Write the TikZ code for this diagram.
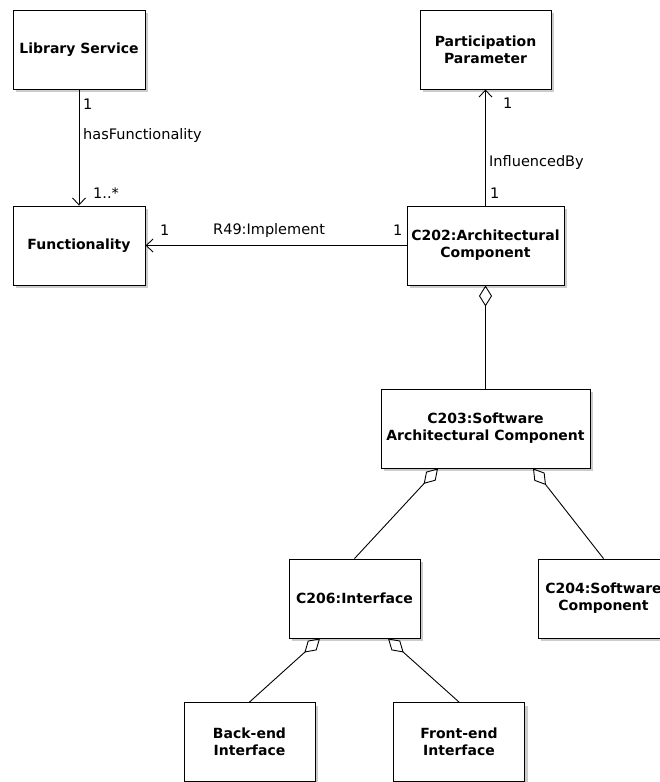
\documentclass[tikz,border=0pt]{standalone}
\usepackage{fontspec}
\setmainfont{DejaVu Sans}
\usetikzlibrary{arrows.meta,shadows}

\begin{document}
\begin{tikzpicture}[x=1pt, y=-1pt,
    cls/.style={draw, line width=0.9pt, fill=white, minimum width=132pt, minimum height=79pt,
        align=center, inner sep=2pt, font=\fontsize{14}{17}\selectfont\bfseries,
        drop shadow={shadow xshift=3pt, shadow yshift=-3pt, fill=black!20, opacity=1}},
    lbl/.style={font=\fontsize{14.5}{17}\selectfont, inner sep=1pt, anchor=west},
    assoc/.style={line width=0.9pt, -{Straight Barb[length=7pt, width=13pt, line width=0.9pt]}},
    aggr/.style={line width=0.9pt, {Diamond[open, length=21pt, width=13pt, line width=0.9pt]}-}]
    \useasboundingbox (0,0) rectangle (660,782);

    % Classes
    \node[cls] (lib) at (79,49.5) {Library Service};
    \node[cls] (func) at (79,245.5) {Functionality};
    \node[cls, minimum width=131pt] (part) at (485.5,49.5) {Participation\\Parameter};
    \node[cls, minimum width=157pt] (c202) at (485.5,245.5) {C202:Architectural\\Component};
    \node[cls, minimum width=209pt] (c203) at (485.5,428.5) {C203:Software\\Architectural Component};
    \node[cls, minimum width=131pt] (c206) at (354.5,598.5) {C206:Interface};
    \node[cls, minimum width=131pt] (c204) at (603.5,598.5) {C204:Software\\Component};
    \node[cls, minimum width=131pt] (back) at (249.5,742) {Back-end\\Interface};
    \node[cls, minimum width=131pt] (front) at (459,742) {Front-end\\Interface};

    % Associations
    \draw[assoc] (lib) -- (func);
    \draw[assoc] (c202) -- (func);
    \draw[assoc] (c202) -- (part);
    \node[lbl] (m1) at (82,104) {1};
    \node[lbl] (hasf) at (82,135) {hasFunctionality};
    \node[lbl] (m2) at (92,193) {1..*};
    \node[lbl] (m3) at (159,230) {1};
    \node[lbl] (impl) at (212,230) {R49:Implement};
    \node[lbl] (m4) at (392,230) {1};
    \node[lbl] (m5) at (502,103) {1};
    \node[lbl] (infl) at (488,162) {InfluencedBy};
    \node[lbl] (m6) at (489,193) {1};

    % Aggregations
    \draw[aggr] (c202) -- (c203);
    \draw[aggr] ([xshift=-47.5pt]c203.south) -- (c206.north);
    \draw[aggr] ([xshift=47.5pt]c203.south) -- (c204.north);
    \draw[aggr] ([xshift=-34.5pt]c206.south) -- (back.north);
    \draw[aggr] ([xshift=33.5pt]c206.south) -- (front.north);
\end{tikzpicture}
\end{document}
